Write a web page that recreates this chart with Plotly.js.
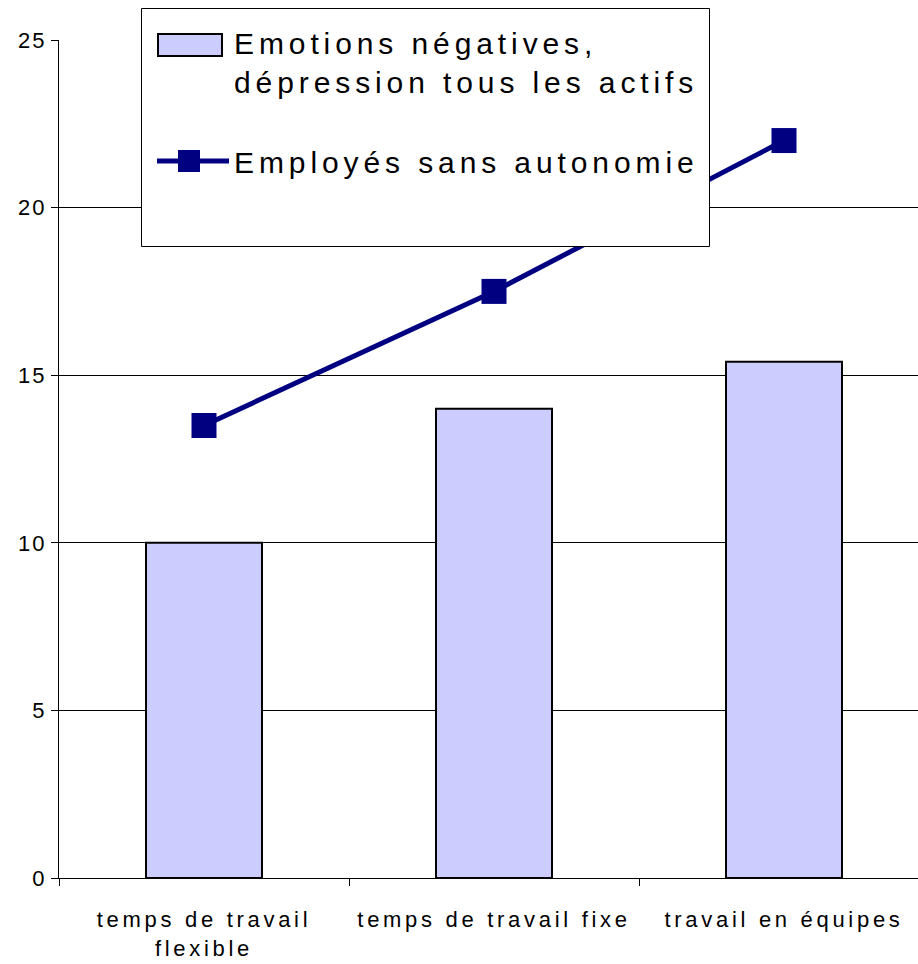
<!DOCTYPE html>
<html>
<head>
<meta charset="utf-8">
<script src="https://cdn.plot.ly/plotly-3.0.1.min.js"></script>
<style>
  html, body { margin: 0; padding: 0; background: #fff; }
  #chart { width: 918px; height: 964px; }
  .legendtext { letter-spacing: 4.9px; }
  .xtick text { letter-spacing: 3.7px; }
  .ytick text { letter-spacing: 2px; }
</style>
</head>
<body>
<div id="chart"></div>
<script>
const categories = ["temps de travail<br>flexible", "temps de travail fixe", "travail en équipes"];
const emotionsAll = [10, 14, 15.4];
const employesSansAutonomie = [13.5, 17.5, 22];
const yTicks = [0, 5, 10, 15, 20, 25];
const seriesNames = ["Emotions négatives,<br>dépression tous les actifs", "Employés sans autonomie"];

const W = 918, H = 964;
const mL = 59, mR = 0, mT = 40, mB = 86;
const plotW = W - mL - mR, plotH = H - mT - mB;
const catPx = 290;
const px2x = p => (p - mL) / plotW;
const py2y = p => (H - mB - p) / plotH;
const itemW = 72;

const traces = [
  {
    type: "bar",
    x: categories,
    y: emotionsAll,
    name: seriesNames[0],
    legendgroup: "a",
    width: 0.4,
    marker: { color: "#CCCCFF", line: { color: "#000000", width: 2 } },
    hoverinfo: "y"
  },
  {
    type: "scatter",
    mode: "lines+markers",
    x: categories,
    y: employesSansAutonomie,
    name: seriesNames[1],
    legendgroup: "b",
    line: { color: "#000080", width: 5 },
    marker: { symbol: "square", size: 25, color: "#000080", line: { width: 0 } },
    hoverinfo: "y"
  }
];

const layout = {
  width: W, height: H,
  margin: { l: mL, r: mR, t: mT, b: mB, pad: 0 },
  paper_bgcolor: "#ffffff",
  plot_bgcolor: "#ffffff",
  font: { family: "Liberation Sans, Arial, sans-serif", color: "#000000", size: 20 },
  showlegend: true,
  legend: {
    x: px2x(234 - itemW - 10), xanchor: "left",
    y: py2y(16), yanchor: "top",
    bgcolor: "rgba(0,0,0,0)",
    borderwidth: 0,
    font: { size: 30, color: "#000000", family: "Liberation Sans, Arial, sans-serif" },
    traceorder: "grouped",
    tracegroupgap: 38,
    itemwidth: itemW,
    valign: "top",
    itemclick: false, itemdoubleclick: false
  },
  xaxis: {
    type: "category",
    range: [-0.5, -0.5 + plotW / catPx],
    tickson: "boundaries",
    showgrid: false,
    zeroline: false,
    showline: true, linecolor: "#000000", linewidth: 1,
    ticks: "outside", ticklen: 7, tickcolor: "#000000", tickwidth: 1,
    ticklabelstandoff: 22,
    tickfont: { size: 22 },
    fixedrange: true
  },
  yaxis: {
    range: [0, 25],
    tickmode: "array",
    tickvals: yTicks,
    showgrid: true, gridcolor: "#000000", gridwidth: 1,
    zeroline: false,
    showline: true, linecolor: "#000000", linewidth: 1,
    ticks: "outside", ticklen: 7, tickcolor: "#000000",
    ticklabelstandoff: 0,
    tickfont: { size: 22 },
    fixedrange: true
  },
  shapes: [
    {
      type: "rect", xref: "paper", yref: "paper", layer: "above",
      x0: px2x(141.5), x1: px2x(709.5), y0: py2y(246.5), y1: py2y(8.5),
      line: { color: "#000000", width: 1 },
      fillcolor: "#ffffff"
    }
  ]
};

function enlargeLegendSymbols() {
  const groups = document.querySelectorAll(".legend .traces");
  if (groups[0]) {
    groups[0].querySelectorAll(".legendpoints path").forEach(function (p) {
      p.setAttribute("d", "M29,14H-35V-8H29Z");
    });
  }
  if (groups[1]) {
    groups[1].querySelectorAll(".legendpoints path").forEach(function (p) {
      p.setAttribute("d", "M7,11H-15V-11H7Z");
    });
  }
}

Plotly.newPlot("chart", traces, layout, { displayModeBar: false }).then(function () {
  enlargeLegendSymbols();
  setTimeout(enlargeLegendSymbols, 200);
});
</script>
</body>
</html>
